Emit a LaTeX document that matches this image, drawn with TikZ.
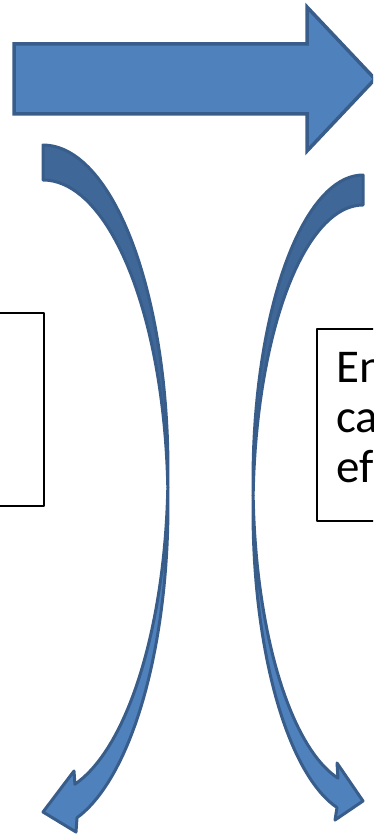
\documentclass[tikz,border=0pt]{standalone}
\usepackage{fontspec}
\setmainfont{Carlito}
\usepackage{tikz}
\definecolor{fillblue}{HTML}{4F81BD}
\definecolor{lineblue}{HTML}{385D8A}
\definecolor{backblue}{HTML}{3F6797}

\begin{document}
\begin{tikzpicture}[x=1pt,y=-1pt,line join=round,
                    bigarrow/.style={fill=fillblue,draw=lineblue,line width=3.5pt,line join=miter},
                    bandfront/.style={fill=fillblue,draw=lineblue,line width=3pt},
                    bandback/.style={fill=backblue,draw=lineblue,line width=3pt},
                    textbox/.style={draw=black,line width=1.2pt,fill=white,inner sep=0pt}]
  \clip[use as bounding box] (0,0) rectangle (373,834);

  \draw[bigarrow] (14,44) -- (307,44) -- (307,7) -- (375,79) -- (307,151) -- (307,114) -- (14,114) -- cycle;

  \path[bandback] plot[domain=-90:3.09,samples=40,variable=\t] ({43+125*cos(\t)},{470+325*sin(\t)})
        -- plot[domain=-3.09:-90,samples=40,variable=\t] ({43+125*cos(\t)},{505+325*sin(\t)}) -- cycle;
  \path[bandfront] plot[domain=3.09:75.2,samples=40,variable=\t] ({43+125*cos(\t)},{470+325*sin(\t)})
        -- (74,771) -- (43,812) -- (76,832)
        -- plot[domain=74.2:-3.09,samples=40,variable=\t] ({43+125*cos(\t)},{505+325*sin(\t)}) -- cycle;

  \path[bandback] plot[domain=-90:2.81,samples=40,variable=\t] ({363-110*cos(\t)},{480.6+305.6*sin(\t)})
        -- plot[domain=-2.81:-90,samples=40,variable=\t] ({363-110*cos(\t)},{510.6+305.6*sin(\t)}) -- cycle;
  \path[bandfront] plot[domain=2.81:76.86,samples=40,variable=\t] ({363-110*cos(\t)},{480.6+305.6*sin(\t)})
        -- (337,763) -- (363,801) -- (335,820)
        -- plot[domain=76.33:-2.81,samples=40,variable=\t] ({363-110*cos(\t)},{510.6+305.6*sin(\t)}) -- cycle;

  \node[textbox,minimum width=54pt,minimum height=193pt] (L) at (17,409.5) {};
  \node[textbox,minimum width=153pt,minimum height=192pt] (R) at (393.5,425) {};
  \node[anchor=north west,inner sep=0pt,align=left,font=\fontsize{47}{50}\selectfont] (T) at (336,352) {En\\ca\\ef};
\end{tikzpicture}
\end{document}
